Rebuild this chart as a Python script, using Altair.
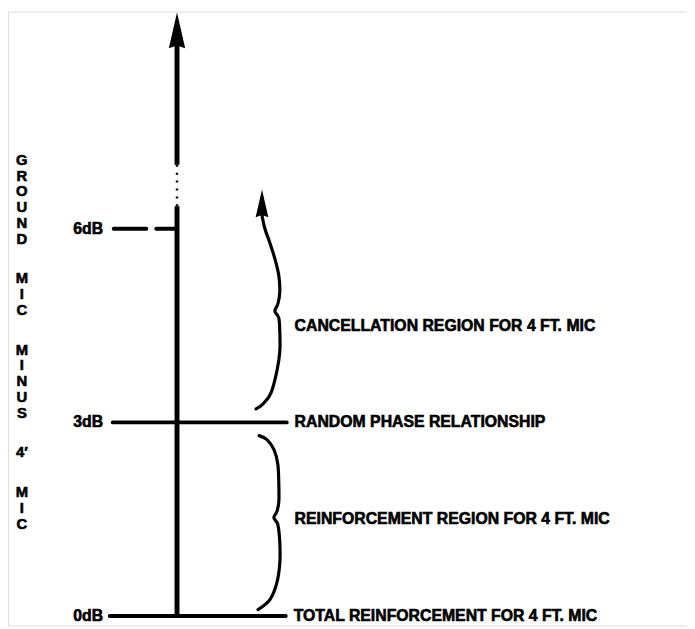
import altair as alt
import pandas as pd

# ---------------- data ----------------
level_db = [0, 3, 6]
level_text = ["0dB", "3dB", "6dB"]

note_text = [
    "TOTAL REINFORCEMENT FOR 4 FT. MIC",
    "REINFORCEMENT REGION FOR 4 FT. MIC",
    "RANDOM PHASE RELATIONSHIP",
    "CANCELLATION REGION FOR 4 FT. MIC",
]
note_db = [0, 1.5, 3, 4.5]

title_words = ["GROUND", "MIC", "MINUS", "4′", "MIC"]

# ---------------- layout helpers ----------------
W, H = 687, 621
ZERO_PX = 619.5      # page pixel row of 0 dB
PX_PER_DB = 65.3


def db(px):
    return (ZERO_PX - px) / PX_PER_DB


FONT = "Liberation Sans"
xs = alt.Scale(domain=[8, 8 + W], nice=False, zero=False)
ys = alt.Scale(domain=[db(8 + H), db(8)], nice=False, zero=False)
X = lambda f: alt.X(f, type="quantitative", scale=xs, axis=None)
Y = lambda f: alt.Y(f, type="quantitative", scale=ys, axis=None)

# level rules (horizontal lines at 0, 3, 6 dB)
rule_rows = []
for d in level_db:
    if d == 6:
        rule_rows.append({"db": d, "x0": 115, "x1": 148})
        rule_rows.append({"db": d, "x0": 158, "x1": 179})
    elif d == 3:
        rule_rows.append({"db": d, "x0": 114, "x1": 290})
    else:
        rule_rows.append({"db": d, "x0": 111, "x1": 289})
rules = alt.Chart(pd.DataFrame(rule_rows)).mark_rule(
    strokeWidth=4, color="black", strokeCap="round"
).encode(x=X("x0"), x2="x1", y=Y("db"))

# vertical axis (solid parts + dotted gap)
axis_solid = pd.DataFrame({"x": [179, 179], "y0": [db(621), db(163)], "y1": [db(205), db(40)]})
axis_line = alt.Chart(axis_solid).mark_rule(strokeWidth=5, color="black").encode(
    x=X("x"), y=Y("y0"), y2="y1"
)
axis_dot = alt.Chart(pd.DataFrame({"x": [179], "y0": [db(205)], "y1": [db(163)]})).mark_rule(
    strokeWidth=2.5, color="black", strokeDash=[2, 6]
).encode(x=X("x"), y=Y("y0"), y2="y1")

# arrow heads
heads = pd.DataFrame({
    "x": [179, 265],
    "y": [db(27), db(202)],
    "size": [1296, 784],
})
arrowheads = alt.Chart(heads).mark_point(
    shape="M0,-1L0.46,1L0,0.85L-0.46,1Z", filled=True, color="black", opacity=1
).encode(x=X("x"), y=Y("y"), size=alt.Size("size:Q", scale=None, legend=None))

# braces
upper = [(265, 214), (268, 228), (273, 242), (278, 258), (282, 275), (283, 292), (281, 304),
         (278, 311), (282, 318), (283, 332), (283, 352), (280, 372), (274, 394), (266, 405), (259, 410)]
lower = [(262, 437), (270, 441), (277, 451), (281, 466), (282, 486), (282, 504), (280, 514),
         (277, 520), (281, 527), (283, 545), (283, 566), (280, 586), (273, 603), (261, 613)]
brace_rows = []
for name, pts in (("up", upper), ("low", lower)):
    for i, (px, py) in enumerate(pts):
        brace_rows.append({"b": name, "i": i, "x": px, "y": db(py)})
braces = alt.Chart(pd.DataFrame(brace_rows)).mark_line(
    strokeWidth=3.2, color="black", interpolate="cardinal", strokeCap="round"
).encode(x=X("x"), y=Y("y"), detail="b:N", order="i:Q")

# level labels
lab = alt.Chart(pd.DataFrame({"db": level_db, "t": level_text, "x": [74, 74, 74]})).mark_text(
    align="left", baseline="middle", font=FONT, fontWeight="bold", fontSize=16, color="black",
    stroke="black", strokeWidth=0.6
).encode(x=X("x"), y=Y("db"), text="t:N")

# notes
notes = alt.Chart(pd.DataFrame({"db": note_db, "t": note_text, "x": [297, 298, 298, 298]})).mark_text(
    align="left", baseline="middle", font=FONT, fontWeight="bold", fontSize=16, color="black",
    stroke="black", strokeWidth=0.6
).encode(x=X("x"), y=Y("db"), text="t:N")

# vertical, letter-stacked title
letters = []
py = 158
for w in title_words:
    chars = [w] if w == "4′" else list(w)
    for c in chars:
        letters.append({"c": c, "x": 22, "y": db(py)})
        py += 16
    py += 24
title = alt.Chart(pd.DataFrame(letters)).mark_text(
    align="center", baseline="middle", font=FONT, fontWeight="bold", fontSize=15, color="black",
    stroke="black", strokeWidth=0.6
).encode(x=X("x"), y=Y("y"), text="c:N")

chart = alt.layer(axis_line, axis_dot, rules, arrowheads, braces, lab, notes, title).properties(
    width=W, height=H, padding=0, autosize=alt.AutoSizeParams(type="none")
).configure_view(strokeWidth=0, stroke="transparent").configure(background="white")

chart.save("out.html", embed_options={"renderer": "svg", "actions": False})
